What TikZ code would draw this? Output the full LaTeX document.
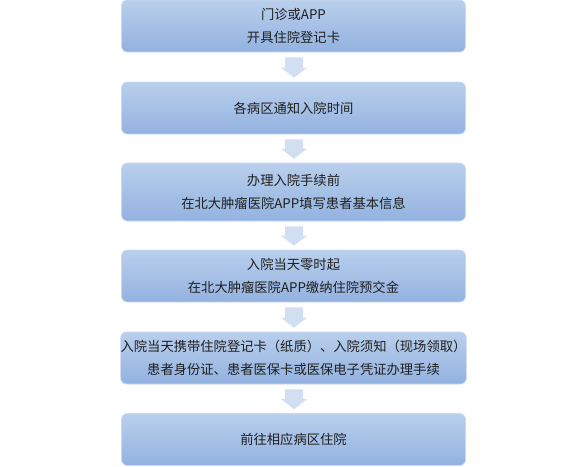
\documentclass[tikz,border=0pt]{standalone}
\usepackage{fontspec}
\setmainfont{Noto Sans CJK SC}
\usetikzlibrary{calc}
\definecolor{boxtop}{HTML}{B9CFEC}
\definecolor{boxbot}{HTML}{93B2E0}
\definecolor{boxline}{HTML}{C9DAF1}
\definecolor{arrowc}{HTML}{D2DFF2}
\begin{document}
\begin{tikzpicture}[x=1pt,y=1pt]
\tikzset{
  stepbox/.style={rounded corners=6pt, top color=boxtop, bottom color=boxbot,
    draw=boxline, line width=0.6pt, minimum width=344pt, inner sep=0pt,
    align=center, font=\fontsize{13.3}{23}\selectfont, text=black!88},
  flowarrow/.style={fill=arrowc, draw=none}
}
\useasboundingbox (0,0) rectangle (588,-466);
\node[stepbox, minimum height=52pt] (b1) at (293.5,-26) {门诊或APP\\开具住院登记卡};
\node[stepbox, minimum height=52pt] (b2) at (293.5,-108) {各病区通知入院时间};
\node[stepbox, minimum height=58pt] (b3) at (293.5,-192) {办理入院手续前\\在北大肿瘤医院APP填写患者基本信息};
\node[stepbox, minimum height=52pt] (b4) at (293.5,-276) {入院当天零时起\\在北大肿瘤医院APP缴纳住院预交金};
\node[stepbox, minimum height=52pt] (b5) at (293.5,-358) {入院当天携带住院登记卡（纸质）、入院须知（现场领取）\\患者身份证、患者医保卡或医保电子凭证办理手续};
\node[stepbox, minimum height=52pt] (b6) at (293.5,-439.5) {前往相应病区住院};
\foreach \a/\b in {b1/b2,b2/b3,b3/b4,b4/b5,b5/b6}{
  \path[flowarrow] let \p1=($(\a.south)+(0.5,-5)$), \p2=($(\b.north)+(0.5,4)$) in
    (\x1-9,\y1) -- (\x1+9,\y1) -- (\x1+9,\y2+10) -- (\x1+13,\y2+10) -- (\x1,\y2)
    -- (\x1-13,\y2+10) -- (\x1-9,\y2+10) -- cycle;
}
\end{tikzpicture}
\end{document}
